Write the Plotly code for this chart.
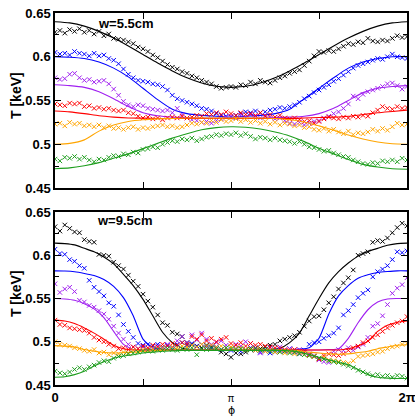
import numpy as np
import plotly.graph_objects as go

# ---- sampling grids (degrees) ----
phi_data_deg = np.arange(0, 361, 5)      # measured points every 5 deg
phi_fit_top_deg = np.arange(0, 361, 15)  # model curve, w=5.5cm
phi_fit_bot_deg = np.arange(0, 361, 10)  # model curve, w=9.5cm

colors = ["#000000", "#0000ff", "#a020f0", "#ff0000", "#ffa500", "#1e9e1e"]

# ---- w = 5.5 cm : measured temperatures [keV] ----
top_black = [0.628, 0.630, 0.627, 0.631, 0.629, 0.632, 0.628, 0.630, 0.626,
             0.629, 0.624, 0.626, 0.621, 0.620, 0.619, 0.617, 0.615, 0.611,
             0.609, 0.606, 0.602, 0.599, 0.595, 0.591, 0.588, 0.586, 0.583,
             0.581, 0.578, 0.576, 0.573, 0.571, 0.569, 0.566, 0.564, 0.565,
             0.566, 0.565, 0.568, 0.567, 0.571, 0.569, 0.573, 0.571, 0.570,
             0.573, 0.576, 0.578, 0.581, 0.583, 0.585, 0.590, 0.595, 0.601,
             0.606, 0.605, 0.607, 0.606, 0.609, 0.612, 0.615, 0.614, 0.617,
             0.616, 0.621, 0.618, 0.617, 0.619, 0.618, 0.621, 0.624, 0.622,
             0.623]
top_blue = [0.605, 0.603, 0.604, 0.602, 0.606, 0.604, 0.603, 0.601, 0.604,
            0.601, 0.602, 0.598, 0.596, 0.592, 0.586, 0.580, 0.576, 0.573,
            0.572, 0.571, 0.569, 0.568, 0.566, 0.562, 0.556, 0.552, 0.550,
            0.548, 0.546, 0.544, 0.541, 0.540, 0.538, 0.535, 0.533, 0.532,
            0.531, 0.533, 0.535, 0.537, 0.536, 0.538, 0.536, 0.537, 0.539,
            0.540, 0.542, 0.541, 0.543, 0.545, 0.548, 0.552, 0.555, 0.559,
            0.562, 0.565, 0.568, 0.572, 0.575, 0.579, 0.583, 0.587, 0.590,
            0.592, 0.594, 0.596, 0.598, 0.597, 0.600, 0.603, 0.600, 0.599,
            0.598]
top_purple = [0.576, 0.574, 0.575, 0.580, 0.581, 0.576, 0.573, 0.574, 0.571,
              0.572, 0.573, 0.569, 0.563, 0.556, 0.549, 0.545, 0.543, 0.545,
              0.544, 0.541, 0.540, 0.539, 0.538, 0.539, 0.536, 0.541, 0.534,
              0.530, 0.528, 0.527, 0.525, 0.526, 0.524, 0.527, 0.529, 0.531,
              0.532, 0.530, 0.533, 0.531, 0.534, 0.532, 0.530, 0.533, 0.531,
              0.529, 0.530, 0.527, 0.524, 0.523, 0.525, 0.522, 0.524, 0.526,
              0.527, 0.530, 0.532, 0.535, 0.537, 0.541, 0.546, 0.555, 0.552,
              0.557, 0.560, 0.562, 0.564, 0.566, 0.569, 0.570, 0.567, 0.563,
              0.566]
top_red = [0.546, 0.545, 0.544, 0.547, 0.546, 0.547, 0.543, 0.544, 0.541,
           0.542, 0.540, 0.541, 0.539, 0.538, 0.539, 0.536, 0.535, 0.532,
           0.530, 0.531, 0.529, 0.530, 0.528, 0.530, 0.531, 0.530, 0.532,
           0.530, 0.531, 0.533, 0.532, 0.535, 0.534, 0.536, 0.534, 0.537,
           0.535, 0.533, 0.536, 0.534, 0.535, 0.533, 0.536, 0.532, 0.534,
           0.531, 0.533, 0.530, 0.529, 0.530, 0.528, 0.526, 0.527, 0.524,
           0.526, 0.529, 0.531, 0.530, 0.529, 0.531, 0.530, 0.532, 0.531,
           0.533, 0.532, 0.536, 0.539, 0.543, 0.541, 0.540, 0.543, 0.541,
           0.542]
top_orange = [0.523, 0.524, 0.521, 0.525, 0.523, 0.524, 0.521, 0.522, 0.520,
              0.522, 0.519, 0.521, 0.518, 0.519, 0.517, 0.519, 0.520, 0.517,
              0.519, 0.518, 0.520, 0.521, 0.522, 0.520, 0.521, 0.519, 0.520,
              0.522, 0.524, 0.523, 0.525, 0.524, 0.527, 0.525, 0.528, 0.526,
              0.527, 0.529, 0.526, 0.528, 0.525, 0.527, 0.524, 0.526, 0.523,
              0.525, 0.522, 0.524, 0.523, 0.521, 0.522, 0.519, 0.520, 0.517,
              0.516, 0.518, 0.515, 0.517, 0.514, 0.512, 0.515, 0.511, 0.513,
              0.512, 0.514, 0.517, 0.515, 0.518, 0.516, 0.520, 0.524, 0.522,
              0.523]
top_green = [0.483, 0.481, 0.485, 0.484, 0.486, 0.483, 0.485, 0.482, 0.480,
             0.483, 0.482, 0.485, 0.487, 0.486, 0.489, 0.488, 0.491, 0.490,
             0.494, 0.495, 0.497, 0.496, 0.500, 0.502, 0.504, 0.503, 0.506,
             0.505, 0.507, 0.504, 0.506, 0.508, 0.509, 0.511, 0.510, 0.512,
             0.511, 0.513, 0.510, 0.512, 0.509, 0.506, 0.508, 0.507, 0.505,
             0.507, 0.505, 0.504, 0.503, 0.501, 0.503, 0.500, 0.497, 0.496,
             0.494, 0.492, 0.493, 0.490, 0.488, 0.486, 0.485, 0.482, 0.480,
             0.478, 0.477, 0.479, 0.478, 0.481, 0.480, 0.482, 0.480, 0.484,
             0.482]

# ---- w = 5.5 cm : model curves [keV] ----
fit_top_black = [0.640, 0.6387, 0.635, 0.629, 0.6213, 0.6122, 0.6025, 0.5928, 0.5838,
                 0.576, 0.570, 0.5663, 0.565, 0.5663, 0.570, 0.576, 0.5838, 0.5928,
                 0.6025, 0.6122, 0.6213, 0.629, 0.635, 0.6387, 0.640]
fit_top_blue = [0.600, 0.5995, 0.598, 0.594, 0.587, 0.577, 0.564, 0.551, 0.540,
                0.535, 0.533, 0.532, 0.531, 0.532, 0.533, 0.535, 0.540, 0.552,
                0.564, 0.576, 0.587, 0.594, 0.598, 0.600, 0.600]
fit_top_purple = [0.568, 0.567, 0.565, 0.560, 0.552, 0.543, 0.536, 0.5325, 0.531,
                  0.5305, 0.530, 0.530, 0.530, 0.530, 0.530, 0.5305, 0.531, 0.532,
                  0.535, 0.541, 0.550, 0.559, 0.564, 0.566, 0.567]
fit_top_red = [0.538, 0.537, 0.535, 0.5325, 0.531, 0.530, 0.5298, 0.5295, 0.5295,
               0.5295, 0.5295, 0.5295, 0.5295, 0.5295, 0.5295, 0.5295, 0.5295, 0.530,
               0.5305, 0.531, 0.532, 0.534, 0.536, 0.5375, 0.539]
fit_top_orange = [0.500, 0.501, 0.505, 0.515, 0.522, 0.526, 0.528, 0.529, 0.5295,
                  0.530, 0.530, 0.530, 0.530, 0.530, 0.530, 0.5295, 0.528, 0.5255,
                  0.521, 0.516, 0.5105, 0.506, 0.5025, 0.5005, 0.500]
fit_top_green = [0.472, 0.473, 0.4755, 0.479, 0.484, 0.489, 0.495, 0.501, 0.507,
                 0.512, 0.5165, 0.519, 0.520, 0.5195, 0.5175, 0.514, 0.5095, 0.503,
                 0.4955, 0.489, 0.4825, 0.477, 0.474, 0.472, 0.4715]

# ---- w = 9.5 cm : measured temperatures [keV] ----
bot_black = [0.633, 0.628, 0.635, 0.631, 0.627, 0.626, 0.618, 0.616, 0.615,
             0.601, 0.600, 0.599, 0.592, 0.588, 0.584, 0.577, 0.570, 0.564,
             0.555, 0.547, 0.540, 0.531, 0.522, 0.519, 0.511, 0.509, 0.506,
             0.499, 0.497, 0.495, 0.493, 0.496, 0.494, 0.492, 0.488, 0.486,
             0.482, 0.487, 0.486, 0.488, 0.491, 0.493, 0.492, 0.494, 0.496,
             0.497, 0.501, 0.503, 0.505, 0.507, 0.511, 0.518, 0.524, 0.529,
             0.530, 0.537, 0.545, 0.552, 0.561, 0.568, 0.574, 0.583, 0.600,
             0.602, 0.604, 0.615, 0.617, 0.616, 0.620, 0.626, 0.632, 0.637,
             0.634]
bot_blue = [0.607, 0.602, 0.601, 0.595, 0.593, 0.588, 0.585, 0.571, 0.563,
            0.558, 0.553, 0.545, 0.541, 0.531, 0.520, 0.512, 0.505, 0.498,
            0.496, 0.497, 0.495, 0.497, 0.494, 0.496, 0.493, 0.497, 0.499,
            0.496, 0.498, 0.495, 0.497, 0.494, 0.492, 0.494, 0.491, 0.493,
            0.490, 0.492, 0.489, 0.491, 0.493, 0.490, 0.488, 0.491, 0.487,
            0.488, 0.490, 0.489, 0.492, 0.488, 0.486, 0.490, 0.497, 0.499,
            0.500, 0.504, 0.507, 0.510, 0.516, 0.531, 0.536, 0.543, 0.551,
            0.556, 0.560, 0.575, 0.581, 0.584, 0.588, 0.595, 0.604, 0.603,
            0.605]
bot_purple = [0.567, 0.557, 0.561, 0.563, 0.558, 0.548, 0.546, 0.542, 0.540,
              0.536, 0.532, 0.526, 0.518, 0.510, 0.503, 0.497, 0.494, 0.492,
              0.494, 0.491, 0.493, 0.495, 0.492, 0.497, 0.494, 0.501, 0.506,
              0.499, 0.508, 0.502, 0.510, 0.503, 0.497, 0.499, 0.501, 0.496,
              0.494, 0.497, 0.495, 0.500, 0.498, 0.493, 0.487, 0.489, 0.493,
              0.491, 0.494, 0.490, 0.492, 0.489, 0.491, 0.488, 0.486, 0.484,
              0.479, 0.477, 0.476, 0.489, 0.491, 0.490, 0.493, 0.490, 0.494,
              0.497, 0.505, 0.518, 0.521, 0.530, 0.543, 0.556, 0.562, 0.566,
              0.574]
bot_red = [0.525, 0.520, 0.519, 0.516, 0.515, 0.514, 0.513, 0.510, 0.505,
           0.502, 0.500, 0.497, 0.495, 0.492, 0.493, 0.491, 0.494, 0.492,
           0.495, 0.493, 0.496, 0.494, 0.497, 0.495, 0.498, 0.496, 0.499,
           0.497, 0.506, 0.503, 0.508, 0.501, 0.504, 0.500, 0.503, 0.505,
           0.498, 0.496, 0.499, 0.495, 0.498, 0.496, 0.497, 0.495, 0.494,
           0.493, 0.492, 0.491, 0.490, 0.491, 0.489, 0.488, 0.485, 0.483,
           0.480, 0.484, 0.486, 0.485, 0.484, 0.486, 0.490, 0.493, 0.495,
           0.499, 0.501, 0.505, 0.508, 0.512, 0.516, 0.519, 0.522, 0.524,
           0.529]
bot_orange = [0.500, 0.497, 0.496, 0.495, 0.493, 0.492, 0.490, 0.489, 0.491,
              0.487, 0.488, 0.485, 0.487, 0.486, 0.488, 0.487, 0.490, 0.489,
              0.491, 0.490, 0.492, 0.491, 0.493, 0.492, 0.494, 0.493, 0.495,
              0.494, 0.496, 0.494, 0.497, 0.495, 0.496, 0.494, 0.495, 0.493,
              0.494, 0.492, 0.493, 0.491, 0.492, 0.490, 0.491, 0.489, 0.490,
              0.488, 0.489, 0.487, 0.488, 0.486, 0.487, 0.485, 0.484, 0.483,
              0.481, 0.482, 0.479, 0.478, 0.477, 0.476, 0.475, 0.478, 0.483,
              0.484, 0.485, 0.486, 0.488, 0.489, 0.492, 0.494, 0.495, 0.497,
              0.498]
bot_green = [0.466, 0.464, 0.463, 0.465, 0.468, 0.470, 0.468, 0.471, 0.473,
             0.476, 0.478, 0.477, 0.481, 0.483, 0.484, 0.486, 0.487, 0.488,
             0.489, 0.490, 0.489, 0.491, 0.490, 0.492, 0.491, 0.490, 0.492,
             0.491, 0.493, 0.485, 0.492, 0.491, 0.493, 0.492, 0.491, 0.493,
             0.492, 0.491, 0.492, 0.490, 0.491, 0.492, 0.490, 0.491, 0.489,
             0.490, 0.488, 0.489, 0.487, 0.488, 0.486, 0.485, 0.484, 0.483,
             0.481, 0.480, 0.478, 0.477, 0.476, 0.474, 0.472, 0.470, 0.467,
             0.465, 0.463, 0.461, 0.462, 0.460, 0.461, 0.459, 0.461, 0.460,
             0.458]

# ---- w = 9.5 cm : model curves [keV] ----
fit_bot_black = [0.614, 0.6135, 0.612, 0.608, 0.604, 0.598, 0.590, 0.578, 0.565,
                 0.549, 0.530, 0.511, 0.499, 0.4925, 0.491, 0.491, 0.491, 0.491,
                 0.491, 0.491, 0.491, 0.491, 0.491, 0.4925, 0.499, 0.510, 0.530,
                 0.550, 0.568, 0.581, 0.591, 0.599, 0.6045, 0.608, 0.6115, 0.6135,
                 0.614]
fit_bot_blue = [0.582, 0.5818, 0.581, 0.579, 0.5765, 0.572, 0.564, 0.551, 0.530,
                0.503, 0.493, 0.4915, 0.491, 0.491, 0.491, 0.491, 0.491, 0.491,
                0.491, 0.491, 0.491, 0.491, 0.491, 0.491, 0.491, 0.4915, 0.493,
                0.504, 0.532, 0.553, 0.565, 0.5735, 0.5775, 0.580, 0.5812, 0.582,
                0.582]
fit_bot_purple = [0.550, 0.5495, 0.548, 0.544, 0.538, 0.528, 0.512, 0.497, 0.491,
                  0.4905, 0.4905, 0.4905, 0.4905, 0.4905, 0.4905, 0.4905, 0.4905, 0.4905,
                  0.4905, 0.4905, 0.4905, 0.4905, 0.4905, 0.4905, 0.4905, 0.4905, 0.4905,
                  0.4905, 0.491, 0.492, 0.504, 0.522, 0.537, 0.5460, 0.5495, 0.550,
                  0.550]
fit_bot_red = [0.525, 0.524, 0.521, 0.516, 0.510, 0.503, 0.496, 0.492, 0.4905,
               0.4905, 0.4905, 0.4905, 0.4905, 0.4905, 0.4905, 0.4905, 0.4905, 0.4905,
               0.4905, 0.4905, 0.4905, 0.4905, 0.4905, 0.4905, 0.4905, 0.4905, 0.4905,
               0.4905, 0.4905, 0.4905, 0.492, 0.495, 0.5005, 0.512, 0.519, 0.5225,
               0.524]
fit_bot_orange = [0.4955, 0.495, 0.494, 0.491, 0.489, 0.4875, 0.487, 0.4875, 0.488,
                  0.489, 0.4895, 0.490, 0.4905, 0.4905, 0.4905, 0.4905, 0.4905, 0.4905,
                  0.4905, 0.4905, 0.4905, 0.4905, 0.4905, 0.4905, 0.4905, 0.4895, 0.488,
                  0.487, 0.486, 0.4855, 0.486, 0.4875, 0.489, 0.492, 0.494, 0.496,
                  0.4965]
fit_bot_green = [0.459, 0.4595, 0.462, 0.466, 0.472, 0.477, 0.481, 0.4835, 0.485,
                 0.487, 0.488, 0.489, 0.4895, 0.490, 0.490, 0.490, 0.490, 0.490,
                 0.490, 0.490, 0.490, 0.490, 0.490, 0.490, 0.4895, 0.488, 0.485,
                 0.482, 0.479, 0.476, 0.4735, 0.468, 0.462, 0.459, 0.458, 0.4575,
                 0.4575]

# ---- axis labels ----
y_ticks = [0.45, 0.5, 0.55, 0.6, 0.65]
y_ticktext = ["0.45", "0.5", "0.55", "0.6", "0.65"]
x_ticks = [0, np.pi / 2, np.pi, 3 * np.pi / 2, 2 * np.pi]
x_ticktext = ["0", "", "<span style='font-weight:normal;font-size:10px'>π</span>", "", "2π"]

top_data = [top_black, top_blue, top_purple, top_red, top_orange, top_green]
top_fits = [fit_top_black, fit_top_blue, fit_top_purple, fit_top_red, fit_top_orange, fit_top_green]
bot_data = [bot_black, bot_blue, bot_purple, bot_red, bot_orange, bot_green]
bot_fits = [fit_bot_black, fit_bot_blue, fit_bot_purple, fit_bot_red, fit_bot_orange, fit_bot_green]

phi_data = np.deg2rad(phi_data_deg)
phi_fit_top = np.deg2rad(phi_fit_top_deg)
phi_fit_bot = np.deg2rad(phi_fit_bot_deg)

fig = go.Figure()


def add_panel(datas, fits, phi_fit, xa, ya):
    for c, d, f in zip(colors, datas, fits):
        fig.add_trace(go.Scatter(
            x=phi_fit, y=f, mode="lines", xaxis=xa, yaxis=ya,
            line=dict(color=c, width=1.1, shape="spline", smoothing=0.6),
            showlegend=False, hoverinfo="skip"))
        fig.add_trace(go.Scatter(
            x=phi_data, y=d, mode="markers", xaxis=xa, yaxis=ya,
            marker=dict(symbol="x-thin", size=4.5, color=c,
                        line=dict(color=c, width=1)),
            showlegend=False))


add_panel(top_data, top_fits, phi_fit_top, "x", "y")
add_panel(bot_data, bot_fits, phi_fit_bot, "x2", "y2")

font_family = "Liberation Sans, Arial, sans-serif"
tick_font = dict(family=font_family, size=13, color="black", weight="bold")
label_font = dict(family=font_family, size=14, color="black", weight="bold")

common_x = dict(range=[0, 2 * np.pi], tickmode="array", tickvals=x_ticks,
                ticktext=x_ticktext, ticks="inside", ticklen=6, tickwidth=1,
                tickcolor="black", showline=True, linecolor="black",
                linewidth=1.5, mirror="ticks", showgrid=False, zeroline=False,
                tickfont=tick_font, automargin=False,
                ticklabeloverflow="allow")
common_y = dict(range=[0.45, 0.65], tickmode="array", tickvals=y_ticks,
                ticktext=y_ticktext, ticks="inside", ticklen=6, tickwidth=1,
                tickcolor="black", showline=True, linecolor="black",
                linewidth=1.5, mirror="ticks", showgrid=False, zeroline=False,
                tickfont=tick_font, automargin=False,
                minor=dict(dtick=0.025, tick0=0.45, ticks="inside", ticklen=4,
                           tickcolor="black", showgrid=False))

# plot area spans 352 x 372 px inside the margins
fig.update_layout(
    width=415, height=417,
    margin=dict(l=55, r=8, t=13, b=32),
    paper_bgcolor="white", plot_bgcolor="white",
    xaxis=dict(common_x, domain=[0, 1], anchor="y", showticklabels=False),
    yaxis=dict(common_y, domain=[0.5296, 1], anchor="x"),
    xaxis2=dict(common_x, domain=[0, 1], anchor="y2"),
    yaxis2=dict(common_y, domain=[0, 0.465], anchor="x2"),
    annotations=[
        dict(text="w=5.5cm", x=0.2017, y=0.973, xref="paper", yref="paper",
             xanchor="center", yanchor="middle", showarrow=False,
             font=dict(family=font_family, size=13, color="black", weight="bold")),
        dict(text="w=9.5cm", x=0.199, y=0.4435, xref="paper", yref="paper",
             xanchor="center", yanchor="middle", showarrow=False,
             font=dict(family=font_family, size=13, color="black", weight="bold")),
        dict(text="T [keV]", x=-0.1108, y=0.7796, xref="paper", yref="paper",
             xanchor="center", yanchor="middle", textangle=-90, showarrow=False,
             font=label_font),
        dict(text="T [keV]", x=-0.1108, y=0.247, xref="paper", yref="paper",
             xanchor="center", yanchor="middle", textangle=-90, showarrow=False,
             font=label_font),
        dict(text="ϕ", x=0.5, y=-0.0675, xref="paper", yref="paper",
             xanchor="center", yanchor="middle", showarrow=False,
             font=dict(family="DejaVu Sans", size=11, color="black")),
    ],
)

fig.write_html("out.html")
